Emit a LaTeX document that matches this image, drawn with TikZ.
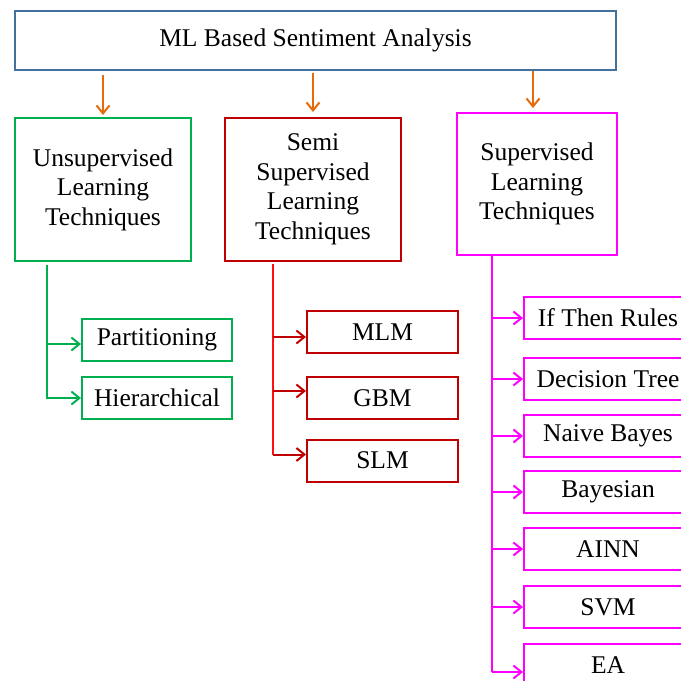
\documentclass[tikz,border=0pt]{standalone}
\usepackage{fontspec}
\setmainfont{Liberation Serif}
\usetikzlibrary{arrows.meta}
\definecolor{topblue}{HTML}{41719C}
\definecolor{arrorange}{HTML}{E46C0A}
\definecolor{lgreen}{HTML}{00B050}
\definecolor{dred}{HTML}{C00000}
\definecolor{bred}{HTML}{FF1010}
\definecolor{mag}{HTML}{FF00FF}
\begin{document}
\begin{tikzpicture}[x=1pt,y=-1pt,
  font=\fontsize{25.5}{29.5}\selectfont,
  box/.style={draw, line width=2pt, inner sep=0pt, align=center, text=black},
  tip/.style={-{Straight Barb[length=8pt,width=13pt]}},
  orarrow/.style={tip, draw=arrorange, line width=2pt},
  garrow/.style={draw=lgreen, line width=2pt},
  rarrow/.style={draw=dred, line width=2pt},
  marrow/.style={draw=mag, line width=2pt}]
\useasboundingbox (0,0) rectangle (681,681);
\clip (0,0) rectangle (681,681);
\fill[white] (0,0) rectangle (681,681);

% top
\node[box, draw=topblue, minimum width=601pt, minimum height=59pt] (top) at (315.5,40) {ML Based Sentiment Analysis};

% level 2
\node[box, draw=lgreen, minimum width=176pt, minimum height=143pt] (uns) at (103,189.5) {Unsupervised\\Learning\\Techniques};
\node[box, draw=dred, minimum width=176pt, minimum height=143pt] (semi) at (313,189.5) {Semi\\Supervised\\Learning\\Techniques};
\node[box, draw=mag, minimum width=160pt, minimum height=142pt] (sup) at (537,184) {Supervised\\Learning\\Techniques};

\draw[orarrow, shorten <=4pt, shorten >=2pt] (top.south -| uns.north) -- (uns.north);
\draw[orarrow, shorten <=2pt, shorten >=5pt] (top.south -| semi.north) -- (semi.north);
\draw[orarrow, shorten >=4pt] ([xshift=-4pt]top.south -| sup.north) -- ([xshift=-4pt]sup.north);

% unsupervised children
\node[box, draw=lgreen, minimum width=150pt, minimum height=42pt] (part) at (157,340) {Partitioning};
\node[box, draw=lgreen, minimum width=150pt, minimum height=42pt] (hier) at (157,398) {Hierarchical};
\coordinate (gt) at (47,265);
\coordinate (pa) at ([yshift=-4pt]part.west);
\coordinate (ha) at (hier.west);
\draw[garrow, tip] (gt) |- (ha);
\draw[garrow, tip] (gt |- pa) -- (pa);

% semi children
\node[box, draw=dred, minimum width=151pt, minimum height=42pt] (mlm) at (382.5,332) {MLM};
\node[box, draw=dred, minimum width=151pt, minimum height=42pt] (gbm) at (382.5,398) {GBM};
\node[box, draw=dred, minimum width=151pt, minimum height=42pt] (slm) at (382.5,460.5) {SLM};
\coordinate (rt) at (273,264);
\coordinate (ma) at ([yshift=-5pt]mlm.west);
\coordinate (ga) at ([yshift=7pt]gbm.west);
\coordinate (sa) at ([yshift=6pt]slm.west);
\draw[draw=bred, line width=2pt] (rt) -- (rt |- sa);
\draw[rarrow, tip] (rt |- ma) -- (ma);
\draw[rarrow, tip] (rt |- ga) -- (ga);
\draw[rarrow, tip] (rt |- sa) -- (sa);

% supervised children
\node[box, draw=mag, minimum width=168pt, minimum height=42pt] (ifr) at (608,318) {If Then Rules};
\node[box, draw=mag, minimum width=168pt, minimum height=42pt] (dt) at (608,379) {Decision Tree};
\node[box, draw=mag, minimum width=168pt, minimum height=42pt] (nb) at (608,436) {Naive Bayes};
\node[box, draw=mag, minimum width=168pt, minimum height=42pt] (bay) at (608,492) {Bayesian};
\node[box, draw=mag, minimum width=168pt, minimum height=42pt] (ainn) at (608,549) {AINN};
\node[box, draw=mag, minimum width=168pt, minimum height=42pt] (svm) at (608,607) {SVM};
\node[box, draw=mag, minimum width=168pt, minimum height=42pt] (ea) at (608,665) {EA};
\coordinate (mt) at (492,255);
\coordinate (eaa) at ([yshift=-7pt]ea.west);
\draw[marrow] (mt) -- (mt |- eaa);
\foreach \n in {ifr,dt,nb,bay,ainn,svm}
  \draw[marrow, tip] (mt |- \n.west) -- (\n.west);
\draw[marrow, tip] (mt |- eaa) -- (eaa);
\end{tikzpicture}
\end{document}
